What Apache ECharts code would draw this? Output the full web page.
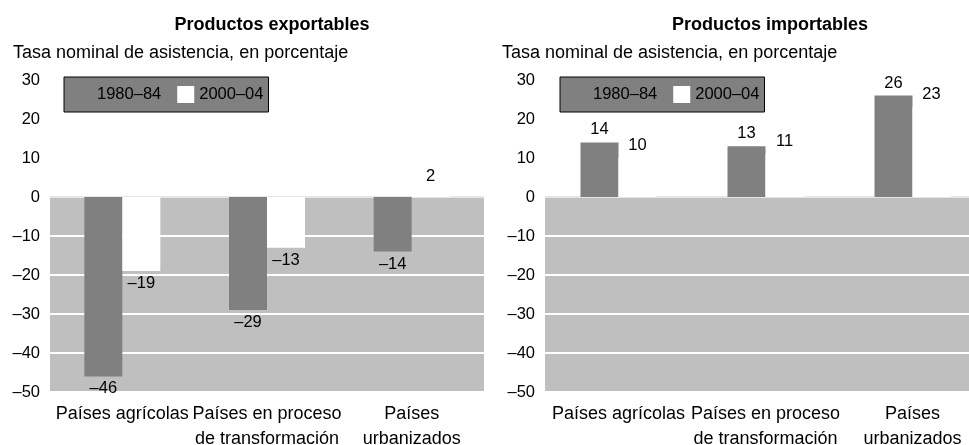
<!DOCTYPE html>
<html>
<head>
<meta charset="utf-8">
<script src="https://cdn.jsdelivr.net/npm/echarts@6/dist/echarts.min.js"></script>
<style>
  html, body { margin: 0; padding: 0; background: #fff; }
  #chart { width: 969px; height: 445px; }
</style>
</head>
<body>
<div id="chart"></div>
<script>
// data
const categories = ["Países agrícolas", "Países en proceso\nde transformación", "Países\nurbanizados"];
const seriesNames = ["1980–84", "2000–04"];
const exportEarly = [-46, -29, -14];
const exportLate = [-19, -13, 2];
const importEarly = [14, 13, 26];
const importLate = [10, 11, 23];
const panelTitles = ["Productos exportables", "Productos importables"];
const unitLabel = "Tasa nominal de asistencia, en porcentaje";
const yMin = -50, yMax = 30, yStep = 10;

const FONT = "'Liberation Sans', Arial, sans-serif";
const DARK = "#808080";
const BAND = "#bfbfbf";
const FS = 18;      // words
const FS_NUM = 16.5; // numbers

// en dash as minus sign, like the print original
const dash = (v) => String(v).replace("-", "–");

const chart = echarts.init(document.getElementById("chart"));

const grids = [
  { left: 50, top: 80, width: 434, height: 312, outerBoundsMode: "none", containLabel: false },
  { left: 545, top: 80, width: 441, height: 312, outerBoundsMode: "none", containLabel: false },
];

function yAxisFor(i) {
  return {
    type: "value",
    gridIndex: i,
    min: yMin,
    max: yMax,
    interval: yStep,
    axisLine: { show: false },
    axisTick: { show: false },
    axisLabel: { color: "#000", fontFamily: FONT, fontSize: FS_NUM, margin: 10, formatter: dash },
    // gray below zero, white above
    splitArea: {
      show: true,
      areaStyle: { color: [BAND, BAND, BAND, BAND, BAND, "#fff", "#fff", "#fff"] },
    },
    splitLine: {
      show: true,
      lineStyle: {
        width: 2,
        color: ["#fff", "#fff", "#fff", "#fff", "#fff", "#e6e6e6", "#fff", "#fff", "#fff"],
      },
    },
  };
}

function xAxisFor(i) {
  return {
    type: "category",
    gridIndex: i,
    data: categories,
    axisLine: { show: false },
    axisTick: { show: false },
    axisLabel: {
      color: "#000",
      fontFamily: FONT,
      fontSize: FS,
      lineHeight: 25,
      margin: 10,
      interval: 0,
    },
  };
}

function barSeries(name, data, i, color) {
  return {
    name: name,
    type: "bar",
    xAxisIndex: i,
    yAxisIndex: i,
    barWidth: 38,
    barGap: "0%",
    itemStyle: { color: color },
    label: {
      show: true,
      color: "#000",
      fontFamily: FONT,
      fontSize: FS_NUM,
      distance: 4,
      position: "top",
      formatter: (p) => dash(p.value),
    },
    // negative bars get their label underneath
    data: data.map((v) => ({ value: v, label: { position: v < 0 ? "bottom" : "top" } })),
  };
}

function legendFor(left) {
  return {
    left: left,
    top: 77,
    orient: "horizontal",
    data: seriesNames,
    backgroundColor: DARK,
    borderColor: "#000",
    borderWidth: 1,
    borderRadius: 0,
    padding: [9, 5, 9, 11],
    itemWidth: 17,
    itemHeight: 17,
    itemGap: 16,
    icon: "rect",
    selectedMode: false,
    textStyle: { color: "#000", fontFamily: FONT, fontSize: FS_NUM },
  };
}

const titleStyle = { fontFamily: FONT, fontWeight: "bold", fontSize: 18, color: "#000" };
const unitStyle = { fontFamily: FONT, fontWeight: "normal", fontSize: FS, color: "#000" };

const option = {
  backgroundColor: "#fff",
  animation: false,
  title: [
    { text: panelTitles[0], left: 267, top: 11, textAlign: "center", textStyle: titleStyle },
    { text: unitLabel, left: 8, top: 39, textStyle: unitStyle },
    { text: panelTitles[1], left: 765, top: 11, textAlign: "center", textStyle: titleStyle },
    { text: unitLabel, left: 497, top: 39, textStyle: unitStyle },
  ],
  legend: [legendFor(64), legendFor(560)],
  grid: grids,
  xAxis: [xAxisFor(0), xAxisFor(1)],
  yAxis: [yAxisFor(0), yAxisFor(1)],
  series: [
    barSeries(seriesNames[0], exportEarly, 0, DARK),
    barSeries(seriesNames[1], exportLate, 0, "#fff"),
    barSeries(seriesNames[0], importEarly, 1, DARK),
    barSeries(seriesNames[1], importLate, 1, "#fff"),
  ],
};

chart.setOption(option);
</script>
</body>
</html>
